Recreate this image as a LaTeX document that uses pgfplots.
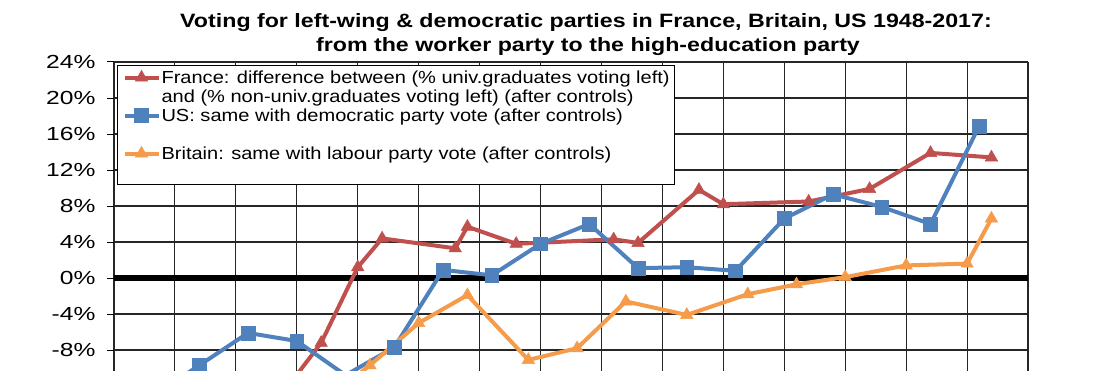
\documentclass[border=0pt]{standalone}
\usepackage{pgfplots}
\pgfplotsset{compat=1.18}
\usepackage{pgfplotstable}
\usepackage{fontspec}
\setmainfont{Liberation Sans}[FakeStretch=1.2]
\newfontfamily\tickfont{Liberation Sans}[FakeStretch=1.3]
\newfontfamily\legfont{Liberation Sans}[FakeStretch=1.15]
\definecolor{fr}{HTML}{C0504D}
\definecolor{us}{HTML}{4F81BD}
\definecolor{uk}{HTML}{F59B4A}
\pgfplotstableread{
year val
1956 -16.0
1958 -14.3
1962 -7.2
1965 1.2
1967 4.4
1973 3.3
1974 5.7
1978 3.8
1986 4.3
1988 3.9
1993 9.8
1995 8.2
2002 8.5
2007 9.9
2012 13.9
2017 13.4
}\france
\pgfplotstableread{
year val
1948 -13.3
1952 -9.7
1956 -6.1
1960 -7.0
1964 -10.8
1968 -7.7
1972 0.9
1976 0.3
1980 3.8
1984 6.0
1988 1.1
1992 1.2
1996 0.8
2000 6.6
2004 9.3
2008 7.9
2012 6.0
2016 16.9
}\us
\pgfplotstableread{
year val
1955 -16.0
1959 -14.0
1964 -11.8
1966 -9.7
1970 -5.0
1974 -1.9
1979 -9.1
1983 -7.8
1987 -2.6
1992 -4.1
1997 -1.8
2001 -0.7
2005 0.1
2010 1.4
2015 1.6
2017 6.6
}\uk
\begin{document}
\begin{tikzpicture}
\begin{axis}[
  at={(114bp,0bp)}, anchor=south west,
  scale only axis, width=914bp, height=309bp,
  xmin=1945, xmax=2020, ymin=-10.33, ymax=24,
  xtick={1945,1950,...,2020}, xticklabels={},
  ytick={-8,-4,...,24},
  yticklabel={\pgfmathprintnumber{\tick}\%},
  /pgf/number format/assume math mode=true,
  grid=major, major grid style={black!85, line width=1.1bp},
  axis line style={draw=none},
  tick align=outside, ytick pos=left, xtick pos=bottom,
  x tick style={draw=none},
  y tick style={black, line width=1bp},
  major tick length=7bp,
  yticklabel style={font=\tickfont\fontsize{19}{21}\selectfont, xshift=-8bp},
  extra y ticks={0}, extra y tick labels={},
  extra y tick style={major grid style={black, line width=6bp}, tick style={draw=none}},
  legend style={at={(0.0033,0.990)}, anchor=north west, draw=black, line width=1bp,
    fill=white, font=\legfont\fontsize{17.5}{19}\selectfont, inner xsep=5bp, inner ysep=2.5bp,
    row sep=0pt, column sep=1bp, nodes={inner sep=0pt, minimum height=19bp}},
  legend cell align=left,
  legend image code/.code={\draw[mark repeat=2,mark phase=2,#1] plot coordinates {(0bp,0bp) (17bp,0bp) (34bp,0bp)};},
]
\addlegendimage{fr, line width=4bp, mark=triangle*, mark size=7.2bp, mark options={solid, line width=0.5bp}}
\addlegendentry{France: difference between (\% univ.graduates voting left)}
\addlegendimage{empty legend}
\addlegendentry{and (\% non-univ.graduates voting left) (after controls)}
\addlegendimage{us, line width=4bp, mark=square*, mark size=6.9bp, mark options={solid, line width=0.5bp}}
\addlegendentry{US: same with democratic party vote (after controls)}
\addlegendimage{empty legend}
\addlegendentry{}
\addlegendimage{uk, line width=4bp, mark=triangle*, mark size=7.2bp, mark options={solid, line width=0.5bp}}
\addlegendentry{Britain: same with labour party vote (after controls)}
\addlegendimage{empty legend}
\addlegendentry{}
\addplot[forget plot, fr, line width=4bp, mark=triangle*, mark size=7.2bp, mark options={solid, line width=0.5bp}] table[x=year, y=val] {\france};
\addplot[forget plot, us, line width=4bp, mark=square*, mark size=6.9bp, mark options={solid, line width=0.5bp}] table[x=year, y=val] {\us};
\addplot[forget plot, uk, line width=4bp, mark=triangle*, mark size=7.2bp, mark options={solid, line width=0.5bp}] table[x=year, y=val] {\uk};
\end{axis}
\node[anchor=base, font=\bfseries\fontsize{19.4}{23}\selectfont] at (586bp,343.3bp) {Voting for left-wing \& democratic parties in France, Britain, US 1948-2017:};
\node[anchor=base, font=\bfseries\fontsize{19.4}{23}\selectfont] at (588bp,319bp) {from the worker party to the high-education party};
\pgfresetboundingbox
\useasboundingbox (0,0) rectangle (1114bp,371bp);
\end{tikzpicture}
\end{document}
